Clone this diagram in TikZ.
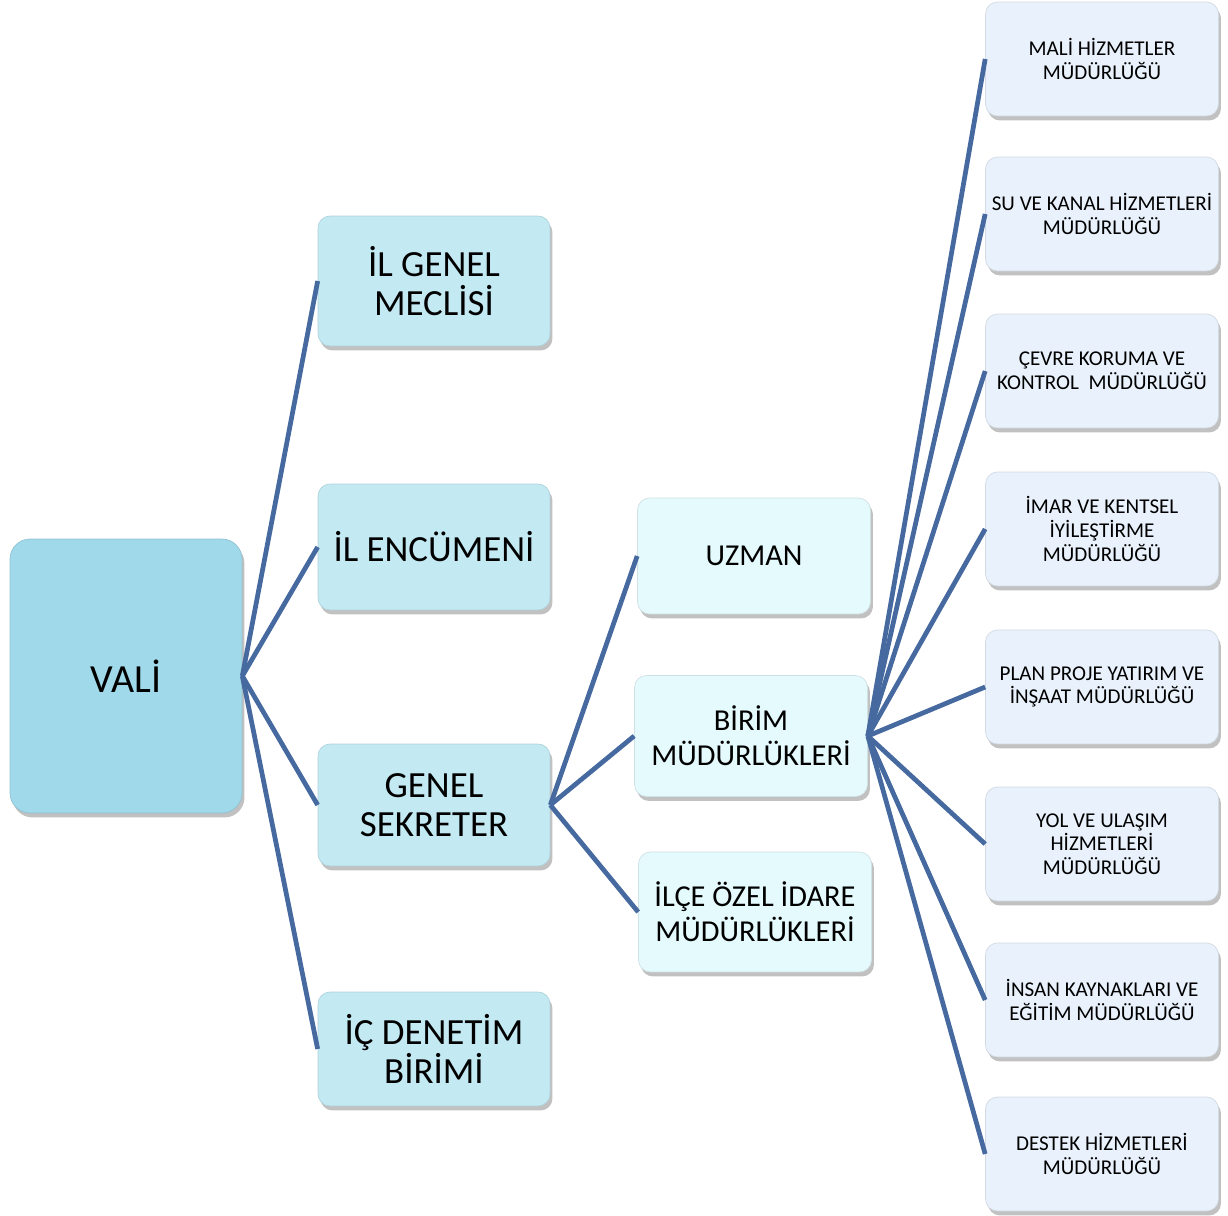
\documentclass[tikz,border=0pt]{standalone}
\usepackage{fontspec}
\setmainfont{Carlito}
\usetikzlibrary{shadows}

\definecolor{valifill}{RGB}{160,217,234}
\definecolor{levelone}{RGB}{195,233,243}
\definecolor{leveltwo}{RGB}{229,250,253}
\definecolor{levelthree}{RGB}{233,242,252}
\definecolor{linkblue}{RGB}{70,106,160}

\begin{document}
\begin{tikzpicture}[x=0.02cm, y=-0.02cm,
    box/.style={rounded corners=0.24cm, align=center, text=black, inner sep=2pt,
        draw=#1!90!black, line width=0.4pt, fill=#1,
        drop shadow={shadow xshift=0.05cm, shadow yshift=-0.09cm, opacity=0.35, fill=black!70}},
    topbox/.style={box=valifill, rounded corners=0.4cm, minimum width=4.64cm, minimum height=5.48cm,
        font=\fontsize{22.7}{26}\selectfont},
    firstbox/.style={box=levelone, minimum width=4.64cm, font=\fontsize{21}{22.2}\selectfont},
    secondbox/.style={box=leveltwo, minimum width=4.66cm, font=\fontsize{17.3}{19.8}\selectfont},
    thirdbox/.style={box=levelthree, minimum width=4.66cm, minimum height=2.28cm,
        font=\fontsize{12}{13.4}\selectfont},
    link/.style={draw=linkblue, line width=2.7pt}]
    \useasboundingbox (0,0) rectangle (1228,1216);

    % Governor
    \node[topbox] (vali) at (126,676) {VALİ};

    % First level
    \node[firstbox, minimum height=2.6cm] (meclis) at (434,281) {İL GENEL\\MECLİSİ};
    \node[firstbox, minimum height=2.52cm] (encumen) at (434,547) {İL ENCÜMENİ};
    \node[firstbox, minimum height=2.44cm] (sekreter) at (434,805) {GENEL\\SEKRETER};
    \node[firstbox, minimum height=2.28cm] (denetim) at (434,1049) {İÇ DENETİM\\BİRİMİ};

    % Second level
    \node[secondbox, minimum height=2.32cm] (uzman) at (754,556) {UZMAN};
    \node[secondbox, minimum height=2.42cm] (birim) at (751,736) {BİRİM\\MÜDÜRLÜKLERİ};
    \node[secondbox, minimum height=2.4cm] (ilce) at (755,912) {İLÇE ÖZEL İDARE\\MÜDÜRLÜKLERİ};

    % Directorates
    \node[thirdbox] (mali) at (1102,59) {MALİ HİZMETLER\\MÜDÜRLÜĞÜ};
    \node[thirdbox] (kanal) at (1102,214) {SU VE KANAL HİZMETLERİ\\MÜDÜRLÜĞÜ};
    \node[thirdbox] (cevre) at (1102,371) {ÇEVRE KORUMA VE\\KONTROL\ \ MÜDÜRLÜĞÜ};
    \node[thirdbox] (imar) at (1102,529) {İMAR VE KENTSEL\\İYİLEŞTİRME\\MÜDÜRLÜĞÜ};
    \node[thirdbox] (plan) at (1102,687) {PLAN PROJE YATIRIM VE\\İNŞAAT MÜDÜRLÜĞÜ};
    \node[thirdbox] (yol) at (1102,844) {YOL VE ULAŞIM\\HİZMETLERİ\\MÜDÜRLÜĞÜ};
    \node[thirdbox] (insan) at (1102,1000) {İNSAN KAYNAKLARI VE\\EĞİTİM MÜDÜRLÜĞÜ};
    \node[thirdbox] (destek) at (1102,1154) {DESTEK HİZMETLERİ\\MÜDÜRLÜĞÜ};

    % Connectors
    \foreach \child in {meclis,encumen,sekreter,denetim}{
        \draw[link] (vali.east) -- (\child.west);
    }
    \foreach \child in {uzman,birim,ilce}{
        \draw[link] (sekreter.east) -- (\child.west);
    }
    \foreach \child in {mali,kanal,cevre,imar,plan,yol,insan,destek}{
        \draw[link] (birim.east) -- (\child.west);
    }
\end{tikzpicture}
\end{document}
